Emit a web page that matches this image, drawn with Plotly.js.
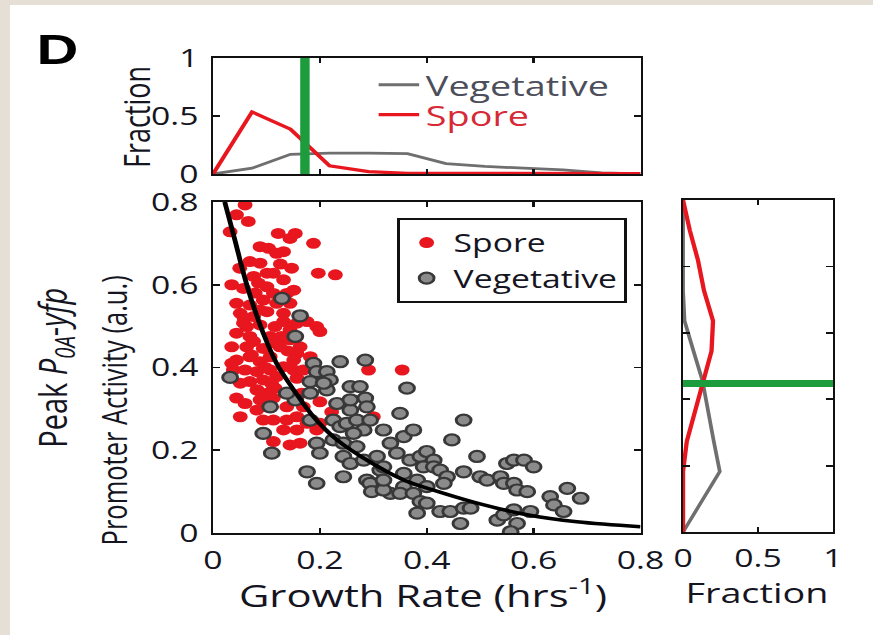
<!DOCTYPE html>
<html>
<head>
<meta charset="utf-8">
<script src="https://cdn.plot.ly/plotly-3.0.1.min.js"></script>
<style>
  html, body { margin: 0; padding: 0; background: #e6dfd5; overflow: hidden; }
  #wrap { width: 873px; height: 635px; overflow: hidden; }
  /* The figure is laid out at a narrower width and stretched horizontally to fill the page. */
  #chart { width: 647px; height: 635px; transform: scaleX(1.3493); transform-origin: 0 0; }
</style>
</head>
<body>
<div id="wrap"><div id="chart"></div></div>
<script>
// ---- Tick values and labels ----
const growthTicks = [0, 0.2, 0.4, 0.6, 0.8];
const growthTickText = ['0', '0.2', '0.4', '0.6', '0.8'];
const activityTicks = [0, 0.2, 0.4, 0.6, 0.8];
const activityTickText = ['0', '0.2', '0.4', '0.6', '0.8'];
const fractionTicks = [0, 0.5, 1];
const fractionTickText = ['0', '0.5', '1'];
const sideActivityTicks = [0.2, 0.4, 0.6, 0.8];

// ---- Single cells: growth rate (hrs^-1) vs peak promoter activity (a.u.) ----
const sporeRate = [
  0.060, 0.044, 0.066, 0.032, 0.122, 0.154, 0.144, 0.188, 0.088, 0.104,
  0.119, 0.132, 0.069, 0.088, 0.147, 0.101, 0.113, 0.197, 0.229, 0.035,
  0.057, 0.085, 0.101, 0.138, 0.151, 0.044, 0.069, 0.094, 0.119, 0.144,
  0.051, 0.076, 0.101, 0.132, 0.063, 0.088, 0.116, 0.132, 0.176, 0.194,
  0.044, 0.069, 0.107, 0.144, 0.200, 0.035, 0.063, 0.094, 0.119, 0.144,
  0.163, 0.044, 0.069, 0.088, 0.107, 0.157, 0.182, 0.035, 0.038, 0.060,
  0.082, 0.107, 0.132, 0.151, 0.069, 0.094, 0.119, 0.157, 0.194, 0.291,
  0.354, 0.082, 0.101, 0.116, 0.044, 0.088, 0.113, 0.200, 0.169, 0.222,
  0.300, 0.051, 0.113, 0.138, 0.157, 0.176, 0.200, 0.194, 0.132, 0.113,
  0.144, 0.163, 0.057, 0.076, 0.051, 0.088, 0.128, 0.157, 0.060, 0.082,
  0.101, 0.138, 0.151, 0.169, 0.094, 0.157, 0.166, 0.076, 0.113, 0.132,
  0.050, 0.079, 0.126, 0.072, 0.098, 0.140, 0.083, 0.058, 0.110, 0.125
];
const sporeActivity = [
  0.793, 0.769, 0.753, 0.728, 0.724, 0.724, 0.712, 0.700, 0.692, 0.688,
  0.676, 0.680, 0.656, 0.652, 0.640, 0.628, 0.628, 0.628, 0.624, 0.600,
  0.591, 0.604, 0.595, 0.579, 0.587, 0.555, 0.551, 0.563, 0.555, 0.555,
  0.531, 0.523, 0.535, 0.531, 0.499, 0.503, 0.499, 0.511, 0.511, 0.499,
  0.483, 0.475, 0.475, 0.491, 0.487, 0.450, 0.450, 0.446, 0.458, 0.467,
  0.450, 0.418, 0.426, 0.414, 0.426, 0.434, 0.426, 0.410, 0.394, 0.394,
  0.390, 0.394, 0.402, 0.418, 0.366, 0.370, 0.378, 0.374, 0.374, 0.394,
  0.394, 0.346, 0.338, 0.350, 0.326, 0.322, 0.326, 0.317, 0.305, 0.293,
  0.281, 0.281, 0.273, 0.273, 0.281, 0.265, 0.265, 0.249, 0.249, 0.221,
  0.213, 0.217, 0.507, 0.463, 0.362, 0.539, 0.475, 0.507, 0.313, 0.297,
  0.305, 0.305, 0.394, 0.394, 0.273, 0.249, 0.338, 0.620, 0.579, 0.612,
  0.640, 0.580, 0.650, 0.430, 0.400, 0.440, 0.345, 0.520, 0.360, 0.450
];
const vegRate = [
  0.129, 0.163, 0.154, 0.032, 0.107, 0.188, 0.238, 0.285, 0.194, 0.213,
  0.219, 0.213, 0.257, 0.275, 0.285, 0.288, 0.363, 0.154, 0.138, 0.094,
  0.110, 0.182, 0.194, 0.200, 0.176, 0.194, 0.225, 0.238, 0.250, 0.269,
  0.294, 0.319, 0.282, 0.263, 0.225, 0.244, 0.269, 0.350, 0.244, 0.257,
  0.282, 0.307, 0.244, 0.288, 0.313, 0.294, 0.297, 0.332, 0.357, 0.375,
  0.344, 0.369, 0.388, 0.400, 0.413, 0.394, 0.413, 0.319, 0.357, 0.382,
  0.400, 0.357, 0.332, 0.350, 0.375, 0.388, 0.400, 0.382, 0.447, 0.469,
  0.425, 0.438, 0.432, 0.469, 0.494, 0.500, 0.513, 0.538, 0.550, 0.563,
  0.582, 0.600, 0.544, 0.563, 0.569, 0.588, 0.425, 0.444, 0.469, 0.482,
  0.463, 0.532, 0.544, 0.563, 0.569, 0.557, 0.631, 0.663, 0.688, 0.638,
  0.656, 0.594, 0.319, 0.182, 0.207, 0.182, 0.232, 0.257, 0.257, 0.319
];
const vegActivity = [
  0.567, 0.525, 0.475, 0.376, 0.305, 0.410, 0.414, 0.418, 0.390, 0.390,
  0.370, 0.346, 0.354, 0.354, 0.326, 0.305, 0.350, 0.322, 0.338, 0.241,
  0.193, 0.273, 0.217, 0.193, 0.148, 0.120, 0.273, 0.257, 0.265, 0.273,
  0.273, 0.249, 0.249, 0.241, 0.225, 0.217, 0.209, 0.289, 0.185, 0.168,
  0.176, 0.185, 0.136, 0.128, 0.152, 0.120, 0.100, 0.217, 0.233, 0.249,
  0.193, 0.176, 0.185, 0.197, 0.176, 0.160, 0.160, 0.160, 0.144, 0.128,
  0.112, 0.112, 0.096, 0.096, 0.096, 0.076, 0.072, 0.048, 0.225, 0.273,
  0.152, 0.136, 0.120, 0.148, 0.185, 0.136, 0.128, 0.136, 0.168, 0.176,
  0.176, 0.160, 0.120, 0.120, 0.104, 0.100, 0.052, 0.052, 0.060, 0.060,
  0.023, 0.031, 0.044, 0.056, 0.023, 0.003, 0.088, 0.108, 0.084, 0.068,
  0.052, 0.052, 0.104, 0.366, 0.362, 0.338, 0.313, 0.297, 0.322, 0.128
];

// ---- Fitted trend through the scatter ----
const fitRate = [0.022, 0.041, 0.057, 0.072, 0.094, 0.119, 0.151, 0.188, 0.232, 0.288, 0.357, 0.432, 0.507, 0.588, 0.681, 0.800];
const fitActivity = [0.800, 0.708, 0.628, 0.563, 0.483, 0.410, 0.346, 0.281, 0.225, 0.176, 0.128, 0.096, 0.068, 0.044, 0.027, 0.015];

// ---- Growth-rate distributions (top panel) ----
const rateBins = [0, 0.073, 0.145, 0.218, 0.291, 0.364, 0.436, 0.509, 0.582, 0.655, 0.727, 0.8];
const vegRateFraction = [0, 0.05, 0.17, 0.18, 0.18, 0.175, 0.09, 0.065, 0.05, 0.035, 0.01, 0];
const sporeRateFraction = [0, 0.535, 0.386, 0.07, 0.02, 0.006, 0.005, 0.004, 0.004, 0.004, 0.004, 0.004];
const rateThreshold = 0.172;

// ---- Promoter-activity distributions (right panel) ----
const activityBins = [0, 0.091, 0.182, 0.273, 0.364, 0.455, 0.545, 0.636, 0.727, 0.818, 0.909, 1.0];
const vegActivityFraction = [0, 0.12, 0.245, 0.205, 0.17, 0.13, 0.07, 0.01, 0, 0, 0, 0];
const sporeActivityFraction = [0, 0, 0, 0.025, 0.078, 0.135, 0.19, 0.2, 0.14, 0.1, 0.045, 0];
const activityThreshold = 0.447;

// ---- Colours ----
const red = '#e8161e';
const histGray = '#6f6f6f';
const green = '#1c9c3c';
const ink = '#15151f';
const font = 'Open Sans, sans-serif';

const traces = [
  { x: rateBins, y: vegRateFraction, xaxis: 'x2', yaxis: 'y2', mode: 'lines', name: 'Vegetative',
    legend: 'legend2', line: { color: histGray, width: 2.8 } },
  { x: rateBins, y: sporeRateFraction, xaxis: 'x2', yaxis: 'y2', mode: 'lines', name: 'Spore',
    legend: 'legend3', line: { color: red, width: 3.2 } },
  { x: [rateThreshold, rateThreshold], y: [0, 1], xaxis: 'x2', yaxis: 'y2', mode: 'lines',
    showlegend: false, line: { color: green, width: 7 } },

  { x: sporeRate, y: sporeActivity, mode: 'markers', name: 'Spore',
    marker: { color: red, size: 11, line: { width: 0 } } },
  { x: vegRate, y: vegActivity, mode: 'markers', name: 'Vegetative',
    marker: { color: '#8b8b8b', size: 11, line: { color: '#383838', width: 2.2 } } },
  { x: fitRate, y: fitActivity, mode: 'lines', showlegend: false,
    line: { color: '#000000', width: 3.6, shape: 'spline' } },

  { x: vegActivityFraction, y: activityBins, xaxis: 'x3', yaxis: 'y3', mode: 'lines',
    showlegend: false, line: { color: histGray, width: 2.8 } },
  { x: sporeActivityFraction, y: activityBins, xaxis: 'x3', yaxis: 'y3', mode: 'lines',
    showlegend: false, line: { color: red, width: 3.2 } },
  { x: [0, 1], y: [activityThreshold, activityThreshold], xaxis: 'x3', yaxis: 'y3', mode: 'lines',
    showlegend: false, line: { color: green, width: 7 } }
];

const axisBase = {
  showgrid: false, zeroline: false, showline: true, linecolor: '#111', linewidth: 1.8,
  mirror: 'allticks', ticks: 'inside', ticklen: 5, tickwidth: 1.8, tickcolor: '#111',
  tickfont: { family: font, size: 25, color: ink }, fixedrange: true
};

const mainX = [0.2440, 0.7337];

const layout = {
  width: 647, height: 635, autosize: false,
  margin: { l: 0, r: 0, t: 0, b: 0, pad: 0 },
  paper_bgcolor: '#e6dfd5', plot_bgcolor: '#ffffff',
  showlegend: true,
  xaxis: Object.assign({}, axisBase, { domain: mainX, range: [0, 0.8], tickvals: growthTicks,
    ticktext: growthTickText, anchor: 'y', ticklabelstandoff: 4 }),
  yaxis: Object.assign({}, axisBase, { domain: [0.1606, 0.6819], range: [0, 0.8], tickvals: activityTicks,
    ticktext: activityTickText, anchor: 'x', ticklabelstandoff: 4 }),
  xaxis2: Object.assign({}, axisBase, { domain: mainX, range: [0, 0.8], tickvals: growthTicks,
    showticklabels: false, anchor: 'y2' }),
  yaxis2: Object.assign({}, axisBase, { domain: [0.7260, 0.9087], range: [0, 1], tickvals: fractionTicks,
    ticktext: fractionTickText, anchor: 'x2', ticklabelstandoff: 4 }),
  xaxis3: Object.assign({}, axisBase, { domain: [0.7824, 0.9542], range: [0, 1], tickvals: fractionTicks,
    ticktext: fractionTickText, anchor: 'y3', ticklabelstandoff: 3 }),
  yaxis3: Object.assign({}, axisBase, { domain: [0.1622, 0.6850], range: [0, 1], tickvals: sideActivityTicks,
    showticklabels: false, anchor: 'x3' }),
  legend: {
    x: 0.455, y: 0.6567, xanchor: 'left', yanchor: 'top',
    bgcolor: '#ffffff', bordercolor: '#111', borderwidth: 1.8,
    font: { family: font, size: 25, color: ink }, tracegroupgap: 0
  },
  legend2: {
    x: 0.426, y: 0.8661, xanchor: 'left', yanchor: 'middle', bgcolor: 'rgba(0,0,0,0)', borderwidth: 0,
    font: { family: font, size: 28, color: '#4c4f5b' }
  },
  legend3: {
    x: 0.426, y: 0.8189, xanchor: 'left', yanchor: 'middle', bgcolor: 'rgba(0,0,0,0)', borderwidth: 0,
    font: { family: font, size: 28, color: '#d62a36' }
  },
  shapes: [
    { type: 'rect', xref: 'paper', yref: 'paper', x0: 0.0115, x1: 1, y0: 0, y1: 0.9921,
      fillcolor: '#ffffff', line: { width: 0 }, layer: 'below' }
  ],
  annotations: [
    { text: '<b>D</b>', xref: 'paper', yref: 'paper', x: 0.0664, y: 0.9228, xanchor: 'center', yanchor: 'middle',
      showarrow: false, font: { family: 'Liberation Sans, Arial, sans-serif', size: 43, color: '#000' } },
    { text: 'Fraction', xref: 'paper', yref: 'paper', x: 0.1546, y: 0.8157, xanchor: 'center', yanchor: 'middle',
      textangle: -90, showarrow: false, font: { family: font, size: 27, color: ink } },
    { text: 'Peak <i>P</i><sub><i>0A</i></sub>-<i>yfp</i>', xref: 'paper', yref: 'paper', x: 0.0630, y: 0.4205,
      xanchor: 'center', yanchor: 'middle', textangle: -90, showarrow: false,
      font: { family: font, size: 29, color: ink } },
    { text: 'Promoter Activity (a.u.)', xref: 'paper', yref: 'paper', x: 0.1306, y: 0.3543,
      xanchor: 'center', yanchor: 'middle', textangle: -90, showarrow: false,
      font: { family: font, size: 25.5, color: ink } },
    { text: 'Growth Rate (hrs<sup>-1</sup>)', xref: 'paper', yref: 'paper', x: 0.4845, y: 0.0661,
      xanchor: 'center', yanchor: 'middle', showarrow: false, font: { family: font, size: 31, color: ink } },
    { text: 'Fraction', xref: 'paper', yref: 'paper', x: 0.8671, y: 0.0685,
      xanchor: 'center', yanchor: 'middle', showarrow: false, font: { family: font, size: 28, color: ink } }
  ]
};

Plotly.newPlot('chart', traces, layout, { displayModeBar: false, staticPlot: true });
</script>
</body>
</html>
